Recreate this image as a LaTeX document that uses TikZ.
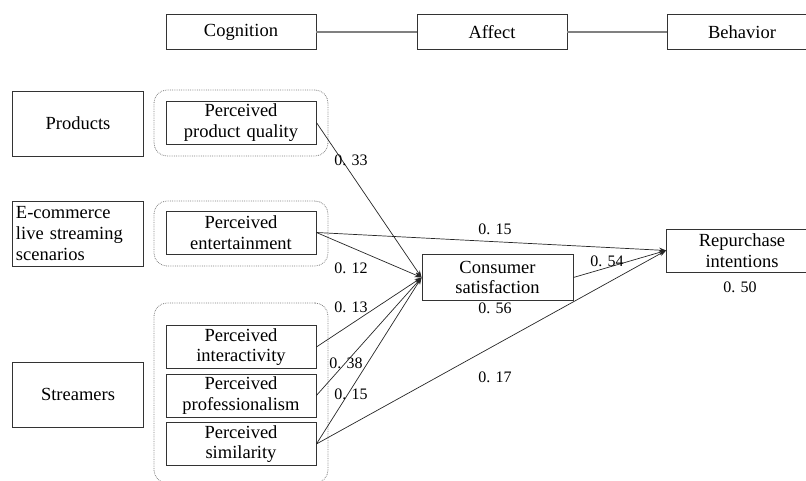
\documentclass[tikz,border=0pt]{standalone}
\usepackage{fontspec}
\setmainfont{Liberation Serif}
\usepackage{tikz}
\usetikzlibrary{positioning, shapes.misc, arrows.meta}
\tikzstyle{level} = [rectangle, minimum width=150pt, minimum height=35pt, text centered, draw=black!80, line width=0.8pt]
\tikzstyle{source} = [rectangle, minimum width=130pt, minimum height=65pt, text width=124pt, draw=black!80, line width=0.8pt]
\tikzstyle{percept} = [rectangle, minimum width=150pt, minimum height=43pt, text width=146pt, align=center, inner sep=1pt, draw=black!80, line width=0.8pt]
\tikzstyle{outcome} = [rectangle, minimum width=151pt, minimum height=46pt, text width=146pt, align=center, inner sep=1pt, draw=black!80, line width=0.8pt]
\tikzstyle{group} = [rectangle, rounded corners=13pt, minimum width=174pt, draw=gray, densely dotted, line width=0.8pt]
\tikzstyle{link} = [draw=gray, line width=1.4pt]
\tikzstyle{arrow} = [-{Stealth[length=7pt, width=5pt]}, line width=0.7pt, black!85]
\tikzstyle{coef} = [font=\rmfamily\fontsize{16}{17}\selectfont, inner sep=0pt]
\def\vsep{20.7}

\begin{document}
\begin{tikzpicture}[x=1pt, y=-1pt, font=\rmfamily\fontsize{18.5}{\vsep}\selectfont]
\useasboundingbox (0,0) rectangle (806,481);

% top row
\node (cog) [level] at (241,32) {Cognition};
\node (aff) [level] at (492,32) {Affect};
\node (beh) [level] at (742,32) {Behavior};
\draw [link] (cog) -- (aff);
\draw [link] (aff) -- (beh);

% left column
\node (prod) [source, align=center] at (78,123.5) {Products};
\node (scen) [source, align=left] at (78,233.5) {E-commerce\\live streaming\\scenarios};
\node (strm) [source, align=center] at (78,394.5) {Streamers};

% dotted groups
\node (gprod) [group, minimum height=66pt] at (241,123) {};
\node (gscen) [group, minimum height=65pt] at (241,233.5) {};
\node (gstrm) [group, minimum height=180pt] at (241,393) {};

% perceived factors
\node (pq) [percept] at (241,122.5) {Perceived\\product quality};
\node (pe) [percept] at (241,232.5) {Perceived\\entertainment};
\node (pi) [percept] at (241,347) {Perceived\\interactivity};
\node (pp) [percept] at (241,395.5) {Perceived\\professionalism};
\node (ps) [percept] at (241,444) {Perceived\\similarity};

% outcomes
\node (cs) [outcome] at (497.5,277.5) {Consumer\\satisfaction};
\node (ri) [outcome, minimum height=43pt] at (742,250.5) {Repurchase\\intentions};

% paths
\draw [arrow] (pq.east) -- (cs.west);
\draw [arrow] (pe.east) -- (cs.west);
\draw [arrow] (pi.east) -- (cs.west);
\draw [arrow] (pp.east) -- (cs.west);
\draw [arrow] (ps.east) -- (cs.west);
\draw [arrow] (pe.east) -- (ri.west);
\draw [arrow] (cs.east) -- (ri.west);
\draw [arrow] (ps.east) -- (ri.west);

% coefficients
\node (c33) [coef] at (351,160) {0. 33};
\node (c12) [coef] at (351,268) {0. 12};
\node (c13) [coef] at (351,307) {0. 13};
\node (c38) [coef] at (346,363) {0. 38};
\node (c15s) [coef] at (351,394) {0. 15};
\node (c15e) [coef] at (495,229) {0. 15};
\node (c54) [coef] at (607,261) {0. 54};
\node (c17) [coef] at (495,377) {0. 17};
\node (r56) [coef] at (495,308) {0. 56};
\node (r50) [coef] at (740,287) {0. 50};

\end{tikzpicture}
\end{document}
